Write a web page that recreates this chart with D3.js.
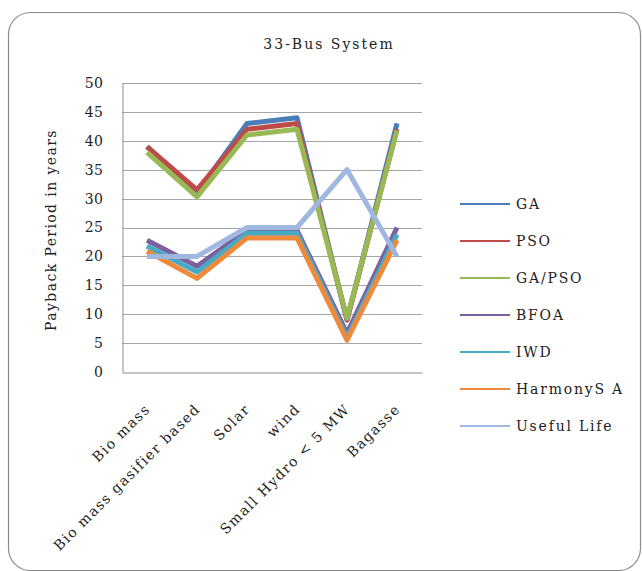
<!DOCTYPE html>
<html>
<head>
<meta charset="utf-8">
<script src="https://cdn.jsdelivr.net/npm/d3@7"></script>
<style>
  body { margin: 0; background: #fff; }
  svg { display: block; font-family: "DejaVu Serif", "Liberation Serif", serif; }
</style>
</head>
<body>
<div id="chart"></div>
<script>
// Categories and series values
const categories = ["Bio mass", "Bio mass gasifier based", "Solar", "wind", "Small Hydro < 5 MW", "Bagasse"];
const seriesNames = ["GA", "PSO", "GA/PSO", "BFOA", "IWD", "HarmonyS A", "Useful Life"];
const gaValues = [39, 31, 43, 44, 9, 43];
const psoValues = [39, 31.5, 42, 43, 9, 42];
const gaPsoValues = [38, 30.3, 41, 42, 9.3, 41.8];
const bfoaValues = [22.8, 18.3, 24.5, 24.5, 6.7, 25];
const iwdValues = [21.8, 17.3, 24, 24, 6, 23.8];
const harmonyValues = [20.9, 16.2, 23.2, 23.2, 5.5, 22.8];
const usefulLifeValues = [20, 20, 25, 25, 35, 20];
const yTicks = [0, 5, 10, 15, 20, 25, 30, 35, 40, 45, 50];

const allValues = [gaValues, psoValues, gaPsoValues, bfoaValues, iwdValues, harmonyValues, usefulLifeValues];
const colors = ["#4a7ebb", "#be4b48", "#98b954", "#7d60a0", "#46aac5", "#ee8a3c", "#a0b7e0"];

const W = 642, H = 571;
const plot = { left: 122, right: 422, top: 83, bottom: 372 };
const font = "DejaVu Serif, Liberation Serif, serif";
const spacing = 1.4; // the reference text is set very loosely

const svg = d3.select("#chart").append("svg")
    .attr("width", W)
    .attr("height", H);

// Rounded frame
svg.append("rect")
    .attr("x", 8.5).attr("y", 12.5)
    .attr("width", 632).attr("height", 558)
    .attr("rx", 22).attr("ry", 22)
    .attr("fill", "#fff")
    .attr("stroke", "#8c8c8c")
    .attr("stroke-width", 1.2);

// Scales
const x = d3.scaleBand().domain(categories).range([plot.left, plot.right]);
const y = d3.scaleLinear().domain([0, 50]).range([plot.bottom, plot.top]);

// Gridlines
svg.append("g")
    .selectAll("line")
    .data(yTicks.filter(d => d > 0))
    .join("line")
    .attr("x1", plot.left).attr("x2", plot.right)
    .attr("y1", d => Math.round(y(d)) + 0.5)
    .attr("y2", d => Math.round(y(d)) + 0.5)
    .attr("stroke", "#a6a6a6")
    .attr("stroke-width", 1);

// Y axis
const yAxis = svg.append("g")
    .attr("transform", `translate(${plot.left + 0.5},0)`)
    .call(d3.axisLeft(y).tickValues(yTicks).tickSize(0).tickPadding(19));
yAxis.select(".domain").attr("stroke", "#8c8c8c");
yAxis.selectAll("text")
    .attr("font-family", font)
    .attr("font-size", 14)
    .attr("letter-spacing", 0.5)
    .attr("fill", "#222");

// X axis
const xAxis = svg.append("g")
    .attr("transform", `translate(0,${Math.round(plot.bottom) + 0.5})`)
    .call(d3.axisBottom(x).tickSize(0).tickFormat(""));
xAxis.select(".domain").attr("stroke", "#8c8c8c");

svg.append("g")
    .selectAll("text")
    .data(categories)
    .join("text")
    .attr("transform", d => `translate(${x(d) + x.bandwidth() / 2 + 4},${plot.bottom + 38}) rotate(-45)`)
    .attr("text-anchor", "end")
    .attr("font-family", font)
    .attr("font-size", 14)
    .attr("letter-spacing", spacing)
    .attr("fill", "#222")
    .text(d => d);

// Lines
const line = d3.line()
    .x((d, i) => x(categories[i]) + x.bandwidth() / 2)
    .y(d => y(d));

svg.append("g")
    .selectAll("path")
    .data(allValues)
    .join("path")
    .attr("fill", "none")
    .attr("stroke", (d, i) => colors[i])
    .attr("stroke-width", 5)
    .attr("stroke-linejoin", "round")
    .attr("d", line);

// Title
svg.append("text")
    .attr("x", 329).attr("y", 49)
    .attr("text-anchor", "middle")
    .attr("font-family", font)
    .attr("font-size", 14)
    .attr("letter-spacing", 2)
    .attr("fill", "#222")
    .text("33-Bus System");

// Y axis title
svg.append("text")
    .attr("transform", "translate(56,230) rotate(-90)")
    .attr("text-anchor", "middle")
    .attr("font-family", font)
    .attr("font-size", 14)
    .attr("letter-spacing", spacing)
    .attr("fill", "#222")
    .text("Payback Period in years");

// Legend
const legend = svg.append("g")
    .selectAll("g")
    .data(seriesNames)
    .join("g")
    .attr("transform", (d, i) => `translate(460,${204 + i * 37})`);
legend.append("line")
    .attr("x1", 0).attr("x2", 50)
    .attr("stroke", (d, i) => colors[i])
    .attr("stroke-width", 2);
legend.append("text")
    .attr("x", 56).attr("y", 5)
    .attr("font-family", font)
    .attr("font-size", 14)
    .attr("letter-spacing", 1.8)
    .attr("fill", "#222")
    .text(d => d);
</script>
</body>
</html>
